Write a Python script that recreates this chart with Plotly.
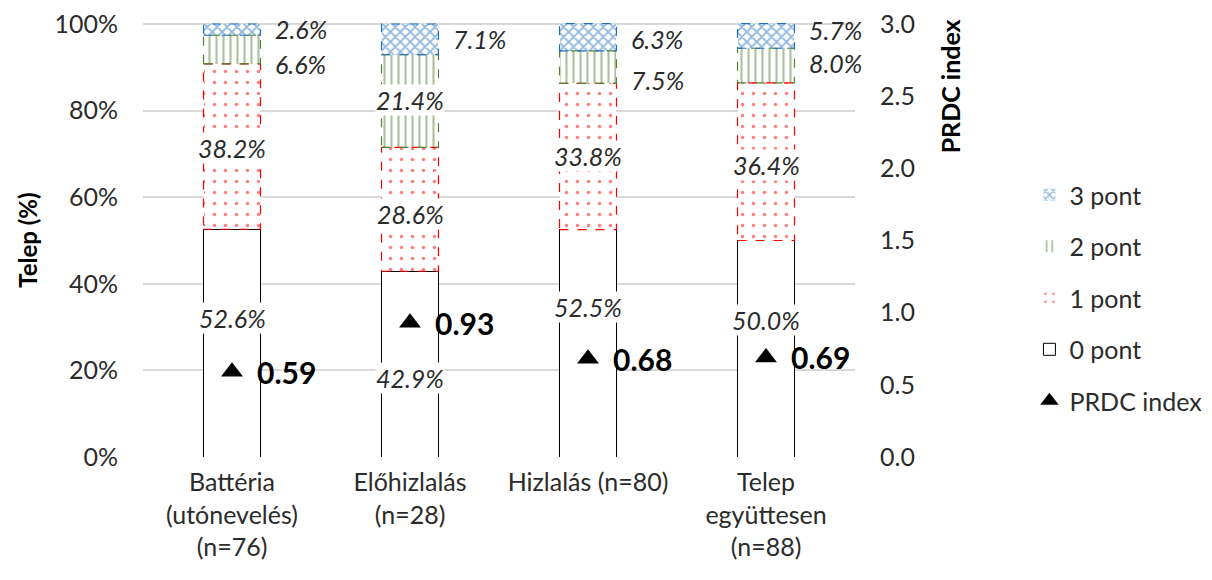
import plotly.graph_objects as go

categories = ["Battéria<br>(utónevelés)<br>(n=76)", "Előhizlalás<br>(n=28)",
              "Hizlalás (n=80)", "Telep<br>együttesen<br>(n=88)"]
pont0 = [52.6, 42.9, 52.5, 50.0]
pont1 = [38.2, 28.6, 33.8, 36.4]
pont2 = [6.6, 21.4, 7.5, 8.0]
pont3 = [2.6, 7.1, 6.3, 5.7]
prdc = [0.59, 0.93, 0.68, 0.69]

# layout-only: label placement tweaks (percentage points) and side
lab0_shift = [5.8, -3.25, 8.4, 6.6]
lab1_shift = [-0.3, -1.1, 0.0, -0.8]
lab2_shift = [-3.3, 0.2, -2.95, 0.6]
lab3_shift = [0.2, 0.0, -0.35, 1.45]
lab2_inside = [False, True, False, False]

FONT = "Lato"
TXT = "#2b2b2b"
BW = 0.32
xs = list(range(len(categories)))

series = [
    ("0 pont", pont0, "", "#000000", 0.3, 8),
    ("1 pont", pont1, ".", "#FF0000", 0.08, 11),
    ("2 pont", pont2, "|", "#548235", 0.3, 7),
    ("3 pont", pont3, "x", "#1F6FC0", 0.45, 7),
]

fig = go.Figure()
base = [0.0] * len(xs)
bases = []
for k, (name, vals, shape, col, sol, psize) in enumerate(series):
    bases.append(base[:])
    fig.add_trace(go.Bar(
        x=xs, y=vals, name=name, width=BW,
        marker=dict(color="white",
                    line=dict(color=col if k == 0 else "rgba(0,0,0,0)", width=1),
                    pattern=dict(shape=shape, fgcolor=col, size=psize, solidity=sol)),
        legendrank=4 - k, legendgroup=name, hoverinfo="skip"))
    base = [b + v for b, v in zip(base, vals)]

# dashed outlines for patterned segments
for k, (name, vals, shape, col, sol, psize) in enumerate(series):
    if k == 0:
        continue
    for i in xs:
        y0 = bases[k][i]
        y1 = y0 + vals[i]
        fig.add_trace(go.Scatter(
            x=[i - BW / 2, i + BW / 2, i + BW / 2, i - BW / 2, i - BW / 2],
            y=[y0, y0, y1, y1, y0], mode="lines",
            line=dict(color=col, width=1.2, dash="dash"),
            showlegend=False, hoverinfo="skip"))

fig.add_trace(go.Scatter(
    x=xs, y=prdc, yaxis="y2", mode="markers", name="PRDC index",
    marker=dict(symbol="triangle-up", size=19, color="black"),
    legendrank=5, legendgroup="prdc", cliponaxis=False, hoverinfo="skip"))

ann = []
lf = dict(family=FONT, size=25, color=TXT)
for i in xs:
    ann.append(dict(x=i, y=pont0[i] / 2 + lab0_shift[i], text="<i>%.1f%%</i>" % pont0[i],
                    showarrow=False, bgcolor="white", font=lf, borderpad=0))
    m1 = bases[1][i] + pont1[i] / 2 + lab1_shift[i]
    ann.append(dict(x=i, y=m1, text="<i>%.1f%%</i>" % pont1[i],
                    showarrow=False, bgcolor="white", font=lf, borderpad=0))
    m3 = bases[3][i] + pont3[i] / 2 + lab3_shift[i]
    ann.append(dict(x=i + BW / 2 + 0.07, y=m3, xanchor="left", text="<i>%.1f%%</i>" % pont3[i],
                    showarrow=False, font=lf))
    m2 = bases[2][i] + pont2[i] / 2 + lab2_shift[i]
    if lab2_inside[i]:
        ann.append(dict(x=i, y=m2, text="<i>%.1f%%</i>" % pont2[i],
                        showarrow=False, bgcolor="white", font=lf, borderpad=0))
    else:
        ann.append(dict(x=i + BW / 2 + 0.07, y=m2, xanchor="left",
                        text="<i>%.1f%%</i>" % pont2[i], showarrow=False, font=lf))
    ann.append(dict(x=i + 0.13, y=prdc[i], yref="y2", xanchor="left",
                    text="<b>%.2f</b>" % prdc[i], showarrow=False,
                    font=dict(family=FONT, size=30, color="black")))

# axis titles
ann.append(dict(xref="paper", yref="paper", x=-0.1615, y=0.497, text="<b>Telep (%)</b>",
                xanchor="center", yanchor="middle",
                textangle=-90, showarrow=False, font=dict(family=FONT, size=24, color="black")))
ann.append(dict(xref="paper", yref="paper", x=1.1334, y=0.852, text="<b>PRDC index</b>",
                xanchor="center", yanchor="middle",
                textangle=-90, showarrow=False, font=dict(family=FONT, size=25, color="black")))

fig.update_layout(
    width=1212, height=580, barmode="stack",
    paper_bgcolor="white", plot_bgcolor="white",
    margin=dict(l=135, r=365, t=14, b=131),
    font=dict(family=FONT, size=25, color=TXT),
    annotations=ann,
    xaxis=dict(tickvals=xs, ticktext=categories, range=[-0.5, 3.5], automargin=False,
               showgrid=False, zeroline=False, showline=False, ticklabelstandoff=8,
               tickfont=dict(family=FONT, size=25, color=TXT)),
    yaxis=dict(range=[0, 100.46], tickvals=[0, 20, 40, 60, 80, 100], automargin=False,
               ticktext=["0%", "20%", "40%", "60%", "80%", "100%"],
               showgrid=True, gridcolor="#D9D9D9", gridwidth=2, zeroline=False,
               ticklabelstandoff=24, ticklabeloverflow="allow"),
    yaxis2=dict(range=[0, 3.0138], overlaying="y", side="right", automargin=False,
                tickvals=[0, 0.5, 1, 1.5, 2, 2.5, 3], tickformat=".1f",
                showgrid=False, zeroline=False, ticklabelstandoff=24,
                ticklabeloverflow="allow"),
    legend=dict(x=1.245, y=0.655, xanchor="left", yanchor="top",
                font=dict(family=FONT, size=25, color=TXT),
                tracegroupgap=16, bgcolor="rgba(0,0,0,0)"),
    showlegend=True,
)

fig.write_html("out.html", config={"displayModeBar": False})
